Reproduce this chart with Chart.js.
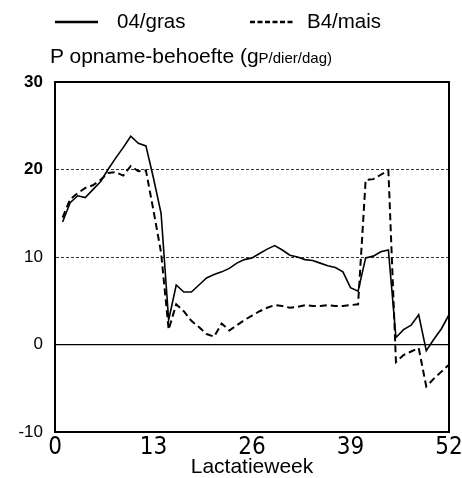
<!DOCTYPE html>
<html>
<head>
<meta charset="utf-8">
<script src="https://cdn.jsdelivr.net/npm/chart.js@4"></script>
<style>
  body { margin: 0; background: #fff; }
  #wrap { position: relative; width: 462px; height: 478px; font-family: 'Liberation Sans', Arial, sans-serif; color: #000; }
  #myChart { position: absolute; left: 0; top: 0; }
  .txt { position: absolute; line-height: 1; white-space: nowrap; }
</style>
</head>
<body>
<div id="wrap">
  <canvas id="myChart" width="462" height="478"></canvas>
  <svg class="txt" style="left:55px;top:17px" width="45" height="10">
    <line x1="0" y1="5" x2="43" y2="5" stroke="#000" stroke-width="2.5"/>
  </svg>
  <div class="txt" style="left:117px;top:11px;font-size:20.5px">04/gras</div>
  <svg class="txt" style="left:250px;top:17px" width="45" height="10">
    <line x1="0" y1="5" x2="43" y2="5" stroke="#000" stroke-width="2.5" stroke-dasharray="5 2.5"/>
  </svg>
  <div class="txt" style="left:307px;top:11px;font-size:20.5px">B4/mais</div>
  <div class="txt" style="left:50px;top:45px;font-size:21px">P opname-behoefte (g<span style="font-size:15px">P/dier/dag)</span></div>
</div>
<script>
// weeks of lactation
const weeks = [1, 2, 3, 4, 5, 6, 7, 8, 9, 10, 11, 12, 13, 14, 15, 16, 17, 18, 19, 20, 21, 22, 23, 24, 25, 26,
    27, 28, 29, 30, 31, 32, 33, 34, 35, 36, 37, 38, 39, 40, 41, 42, 43, 44, 45, 46, 47, 48, 49, 50, 51, 52];

// 04/gras
const gras = [14.0, 16.2, 17.0, 16.8, 17.7, 18.6, 20.0, 21.3, 22.5, 23.8, 23.0, 22.7, 19.0, 15.0, 2.8, 6.8,
    6.0, 6.0, 6.8, 7.6, 8.0, 8.3, 8.7, 9.3, 9.7, 9.9, 10.4, 10.9, 11.3, 10.8, 10.2, 10.0, 9.7, 9.6, 9.3, 9.0,
    8.8, 8.3, 6.5, 6.1, 9.9, 10.1, 10.6, 10.8, 0.8, 1.7, 2.2, 3.4, -0.7, 0.6, 1.8, 3.4];

// B4/mais
const mais = [14.5, 16.6, 17.3, 17.9, 18.2, 18.8, 19.6, 19.7, 19.3, 20.4, 19.8, 19.9, 15.3, 10.5, 1.7, 4.6,
    3.8, 2.7, 2.0, 1.2, 0.9, 2.4, 1.6, 2.2, 2.8, 3.3, 3.8, 4.2, 4.5, 4.4, 4.2, 4.3, 4.5, 4.4, 4.4, 4.5,
    4.4, 4.4, 4.5, 4.6, 18.8, 18.9, 19.4, 19.9, -2.0, -1.2, -0.8, -0.4, -4.8, -3.9, -3.1, -2.3];

const xTicks = [0, 13, 26, 39, 52];
const yTicks = [-10, 0, 10, 20, 30];

const sans = "'Liberation Sans', Arial, sans-serif";
const narrow = "'Liberation Sans Narrow', 'DejaVu Sans Condensed', sans-serif";

const ctx = document.getElementById('myChart').getContext('2d');
const myChart = new Chart(ctx, {
    type: 'line',
    data: {
        datasets: [{
            label: '04/gras',
            data: weeks.map((w, i) => ({ x: w, y: gras[i] })),
            borderColor: '#000',
            borderWidth: 1.6
        }, {
            label: 'B4/mais',
            data: weeks.map((w, i) => ({ x: w, y: mais[i] })),
            borderColor: '#000',
            borderWidth: 2,
            borderDash: [7, 4]
        }]
    },
    options: {
        responsive: false,
        animation: false,
        layout: { padding: { top: 82, right: 13, left: 0, bottom: 0 } },
        elements: { point: { radius: 0 }, line: { tension: 0 } },
        plugins: { legend: { display: false }, tooltip: { enabled: false } },
        scales: {
            x: {
                type: 'linear',
                min: 0,
                max: 52,
                afterBuildTicks: s => { s.ticks = xTicks.map(v => ({ value: v })); },
                afterFit: s => { s.height = 46; },
                grid: { display: false },
                border: { display: true, color: '#000', width: 2 },
                ticks: { color: '#000', padding: -7, maxRotation: 0, font: { family: narrow, size: 24 } },
                title: { display: true, text: 'Lactatieweek', color: '#000', padding: { top: 0, bottom: -2 }, font: { family: sans, size: 21 } }
            },
            y: {
                min: -10,
                max: 30,
                afterBuildTicks: s => { s.ticks = yTicks.map(v => ({ value: v })); },
                afterFit: s => { s.width = 55; },
                grid: {
                    drawTicks: false,
                    lineWidth: 1,
                    color: c => (c.tick && (c.tick.value === 10 || c.tick.value === 20)) ? '#333' : 'rgba(0,0,0,0)'
                },
                border: { display: true, color: '#000', width: 2, dash: [3, 2] },
                ticks: {
                    color: '#000',
                    padding: 12,
                    font: c => ({ family: sans, size: 17, weight: (c.tick && c.tick.value >= 20) ? 'bold' : 'normal' })
                }
            },
            y2: {
                position: 'right',
                min: -10,
                max: 30,
                afterBuildTicks: s => { s.ticks = yTicks.map(v => ({ value: v })); },
                afterFit: s => { s.width = 0; },
                grid: {
                    drawTicks: false,
                    lineWidth: c => (c.tick && c.tick.value === 30) ? 2 : 1.3,
                    color: c => (c.tick && (c.tick.value === 0 || c.tick.value === 30)) ? '#000' : 'rgba(0,0,0,0)'
                },
                border: { display: true, color: '#000', width: 2 },
                ticks: { display: false }
            }
        }
    }
});
</script>
</body>
</html>
